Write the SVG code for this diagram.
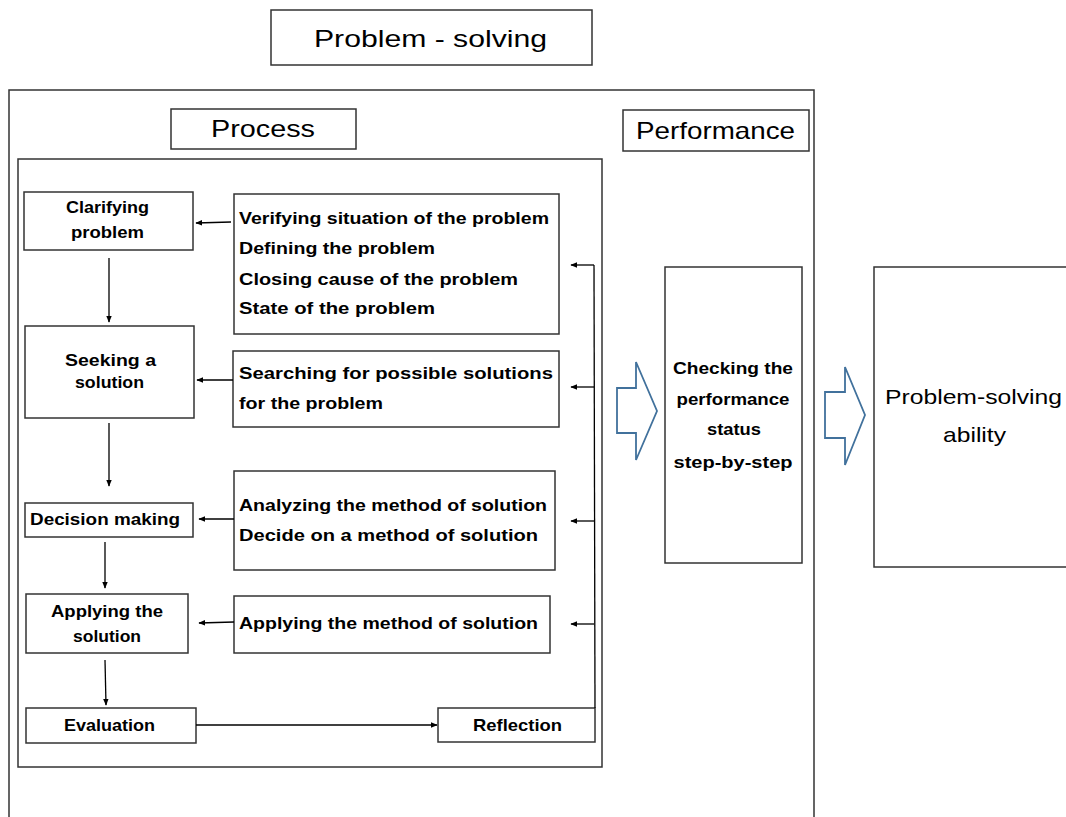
<svg xmlns="http://www.w3.org/2000/svg" width="1066" height="817" viewBox="0 0 1066 817">
<defs>
<marker id="ah" viewBox="0 0 10 10" refX="9" refY="5" markerWidth="7" markerHeight="7" markerUnits="userSpaceOnUse" orient="auto">
<path d="M0,1 L10,5 L0,9 Z" fill="#000"/>
</marker>
<style>
.box{fill:#fff;stroke:#333;stroke-width:1.5}
.frame{fill:none;stroke:#333;stroke-width:1.5}
.t{font-family:"Liberation Sans",Arial,sans-serif;fill:#000}
.b{font-size:17px;font-weight:bold}
.h{font-size:24px}
.c{text-anchor:middle}
.conn{fill:none;stroke:#000;stroke-width:1.3}
.blk{fill:#fff;stroke:#41719c;stroke-width:1.8;stroke-linejoin:miter}
</style>
</defs>
<rect width="1066" height="817" fill="#fff"/>

<g id="title">
<rect class="box" x="271" y="10" width="321" height="55"/>
<text class="t h" x="314" y="47" textLength="233" lengthAdjust="spacingAndGlyphs">Problem  -  solving</text>
</g>

<g id="outer-frame">
<path class="frame" d="M9,830 L9,90 L814,90 L814,830"/>
</g>

<g id="process-label">
<rect class="box" x="171" y="109" width="185" height="40"/>
<text class="t h" x="211" y="137" textLength="104" lengthAdjust="spacingAndGlyphs">Process</text>
</g>

<g id="performance-label">
<rect class="box" x="623" y="110" width="186" height="41"/>
<text class="t h" x="636" y="139" textLength="159" lengthAdjust="spacingAndGlyphs">Performance</text>
</g>

<g id="process-frame">
<rect class="frame" x="18" y="159" width="584" height="608"/>
</g>

<g id="clarifying">
<rect class="box" x="24" y="192" width="169" height="58"/>
<text class="t b" x="66" y="213" textLength="83" lengthAdjust="spacingAndGlyphs">Clarifying</text>
<text class="t b" x="71" y="238" textLength="73" lengthAdjust="spacingAndGlyphs">problem</text>
</g>

<g id="verifying">
<rect class="box" x="234" y="194" width="325" height="140"/>
<text class="t b" x="239" y="224" textLength="310" lengthAdjust="spacingAndGlyphs">Verifying situation of the problem</text>
<text class="t b" x="239" y="254" textLength="196" lengthAdjust="spacingAndGlyphs">Defining the problem</text>
<text class="t b" x="239" y="285" textLength="279" lengthAdjust="spacingAndGlyphs">Closing cause of the problem</text>
<text class="t b" x="239" y="314" textLength="196" lengthAdjust="spacingAndGlyphs">State of the problem</text>
</g>

<g id="seeking">
<rect class="box" x="25" y="326" width="169" height="92"/>
<text class="t b" x="65" y="366" textLength="91" lengthAdjust="spacingAndGlyphs">Seeking a</text>
<text class="t b" x="75" y="388" textLength="69" lengthAdjust="spacingAndGlyphs">solution</text>
</g>

<g id="searching">
<rect class="box" x="233" y="351" width="326" height="76"/>
<text class="t b" x="239" y="379" textLength="314" lengthAdjust="spacingAndGlyphs">Searching for possible solutions</text>
<text class="t b" x="239" y="409" textLength="144" lengthAdjust="spacingAndGlyphs">for the problem</text>
</g>

<g id="decision">
<rect class="box" x="25" y="503" width="168" height="34"/>
<text class="t b" x="30" y="525" textLength="150" lengthAdjust="spacingAndGlyphs">Decision making</text>
</g>

<g id="analyzing">
<rect class="box" x="234" y="471" width="321" height="99"/>
<text class="t b" x="239" y="511" textLength="308" lengthAdjust="spacingAndGlyphs">Analyzing the method of solution</text>
<text class="t b" x="239" y="541" textLength="299" lengthAdjust="spacingAndGlyphs">Decide on a method of solution</text>
</g>

<g id="applying-solution">
<rect class="box" x="26" y="594" width="162" height="59"/>
<text class="t b" x="51" y="617" textLength="112" lengthAdjust="spacingAndGlyphs">Applying the</text>
<text class="t b" x="73" y="642" textLength="68" lengthAdjust="spacingAndGlyphs">solution</text>
</g>

<g id="applying-method">
<rect class="box" x="234" y="596" width="316" height="57"/>
<text class="t b" x="239" y="629" textLength="299" lengthAdjust="spacingAndGlyphs">Applying the method of solution</text>
</g>

<g id="evaluation">
<rect class="box" x="26" y="708" width="170" height="35"/>
<text class="t b" x="64" y="731" textLength="91" lengthAdjust="spacingAndGlyphs">Evaluation</text>
</g>

<g id="reflection">
<rect class="box" x="438" y="708" width="157" height="34"/>
<text class="t b" x="473" y="731" textLength="89" lengthAdjust="spacingAndGlyphs">Reflection</text>
</g>

<g id="checking">
<rect class="box" x="665" y="267" width="137" height="296"/>
<text class="t b c" x="733" y="374" textLength="120" lengthAdjust="spacingAndGlyphs">Checking the</text>
<text class="t b c" x="733" y="405" textLength="113" lengthAdjust="spacingAndGlyphs">performance</text>
<text class="t b c" x="734" y="435" textLength="54" lengthAdjust="spacingAndGlyphs">status</text>
<text class="t b c" x="733" y="468" textLength="119" lengthAdjust="spacingAndGlyphs">step-by-step</text>
</g>

<g id="ability">
<rect class="box" x="874" y="267" width="200" height="300"/>
<text class="t" font-size="21" x="885" y="404" textLength="177" lengthAdjust="spacingAndGlyphs">Problem-solving</text>
<text class="t" font-size="21" x="943" y="442" textLength="63" lengthAdjust="spacingAndGlyphs">ability</text>
</g>

<g id="connectors">
<line class="conn" x1="231" y1="222" x2="196" y2="223" marker-end="url(#ah)"/>
<line class="conn" x1="233" y1="380" x2="197" y2="380" marker-end="url(#ah)"/>
<line class="conn" x1="234" y1="519" x2="199" y2="519" marker-end="url(#ah)"/>
<line class="conn" x1="234" y1="622" x2="199" y2="623" marker-end="url(#ah)"/>
<line class="conn" x1="109" y1="258" x2="109" y2="322" marker-end="url(#ah)"/>
<line class="conn" x1="109" y1="423" x2="109" y2="486" marker-end="url(#ah)"/>
<line class="conn" x1="105" y1="542" x2="105" y2="588" marker-end="url(#ah)"/>
<line class="conn" x1="105" y1="660" x2="106" y2="705" marker-end="url(#ah)"/>
<line class="conn" x1="196" y1="725" x2="437" y2="725" marker-end="url(#ah)"/>
<path class="conn" d="M595,708 L594,265"/>
<line class="conn" x1="594" y1="265" x2="571" y2="265" marker-end="url(#ah)"/>
<line class="conn" x1="594" y1="387" x2="571" y2="387" marker-end="url(#ah)"/>
<line class="conn" x1="594" y1="521" x2="571" y2="521" marker-end="url(#ah)"/>
<line class="conn" x1="594" y1="624" x2="571" y2="624" marker-end="url(#ah)"/>
<path class="blk" d="M617,388 L636,388 L636,362 L657,411 L636,460 L636,433 L617,433 Z"/>
<path class="blk" d="M825,392 L845,392 L845,367 L865,415 L845,465 L845,438 L825,438 Z"/>
</g>
</svg>
